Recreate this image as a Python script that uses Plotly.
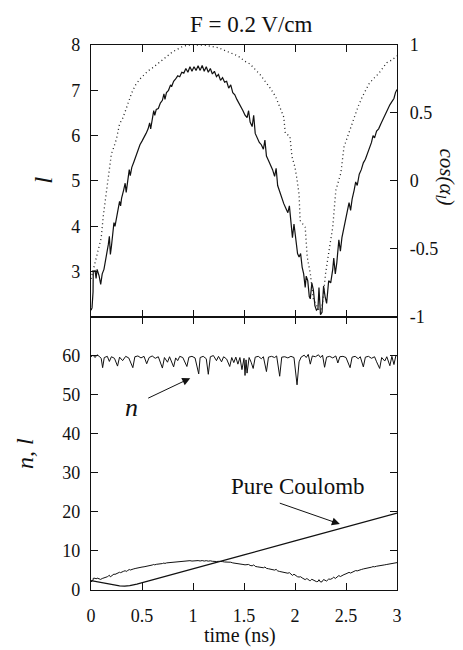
import plotly.graph_objects as go

# ---------------- data ----------------
t_l = [0.000, 0.010, 0.020, 0.022, 0.040, 0.050, 0.060, 0.080, 0.095, 0.110, 0.127, 0.140, 0.150, 0.160,
       0.170, 0.180, 0.190, 0.200, 0.215, 0.225, 0.235, 0.250, 0.265, 0.280, 0.290, 0.300, 0.320, 0.335,
       0.345, 0.360, 0.375, 0.385, 0.400, 0.420, 0.440, 0.460, 0.480, 0.500, 0.520, 0.540, 0.560, 0.575,
       0.585, 0.600, 0.615, 0.625, 0.640, 0.660, 0.680, 0.700, 0.715, 0.725, 0.740, 0.760, 0.780, 0.790,
       0.810, 0.830, 0.850, 0.870, 0.890, 0.910, 0.930, 0.950, 0.970, 0.990, 1.010, 1.030, 1.050, 1.070,
       1.090, 1.110, 1.130, 1.150, 1.170, 1.190, 1.210, 1.230, 1.250, 1.270, 1.290, 1.310, 1.330, 1.350,
       1.370, 1.390, 1.410, 1.430, 1.450, 1.470, 1.490, 1.510, 1.530, 1.545, 1.560, 1.580, 1.595, 1.610,
       1.630, 1.650, 1.670, 1.690, 1.705, 1.720, 1.740, 1.760, 1.780, 1.800, 1.815, 1.830, 1.850, 1.870,
       1.890, 1.910, 1.930, 1.945, 1.960, 1.975, 1.990, 2.010, 2.025, 2.040, 2.055, 2.070, 2.085, 2.100,
       2.110, 2.125, 2.140, 2.150, 2.165, 2.180, 2.195, 2.210, 2.225, 2.235, 2.250, 2.265, 2.280, 2.295,
       2.310, 2.330, 2.350, 2.370, 2.380, 2.395, 2.410, 2.430, 2.445, 2.460, 2.480, 2.500, 2.515, 2.530,
       2.545, 2.560, 2.580, 2.595, 2.610, 2.630, 2.650, 2.670, 2.690, 2.710, 2.730, 2.750, 2.765, 2.780,
       2.800, 2.820, 2.840, 2.860, 2.880, 2.900, 2.915, 2.930, 2.950, 2.970, 2.985, 3.000]
l_vals = [2.15, 2.20, 2.55, 3.00, 3.02, 2.85, 3.05, 2.90, 2.72, 2.95, 3.05, 3.20, 3.35, 3.40,
          3.60, 3.78, 3.38, 3.55, 3.80, 4.08, 4.00, 4.20, 4.35, 4.55, 4.45, 4.62, 4.80, 4.95,
          4.75, 5.00, 5.25, 5.12, 5.30, 5.42, 5.55, 5.70, 5.80, 5.88, 5.95, 6.05, 6.15, 6.28,
          6.15, 6.40, 6.55, 6.45, 6.58, 6.60, 6.72, 6.78, 6.92, 6.80, 6.95, 7.00, 7.12, 7.08,
          7.20, 7.25, 7.32, 7.30, 7.40, 7.38, 7.48, 7.40, 7.52, 7.42, 7.52, 7.44, 7.54, 7.44,
          7.55, 7.42, 7.52, 7.40, 7.48, 7.36, 7.42, 7.30, 7.35, 7.22, 7.28, 7.18, 7.20, 7.05,
          7.12, 6.95, 6.90, 6.80, 6.72, 6.65, 6.55, 6.45, 6.40, 6.55, 6.30, 6.20, 6.45, 6.05,
          5.95, 5.85, 5.80, 5.70, 5.90, 5.55, 5.45, 5.35, 5.25, 5.10, 5.28, 4.90, 4.75, 4.62,
          4.50, 4.40, 4.30, 4.45, 4.05, 3.75, 4.05, 3.60, 3.40, 3.32, 3.40, 3.10, 2.95, 2.65,
          2.90, 2.80, 2.45, 2.40, 2.75, 2.60, 2.25, 2.15, 2.18, 2.65, 2.05, 2.10, 2.68, 2.45,
          2.30, 2.80, 2.75, 3.05, 3.30, 2.95, 3.20, 3.70, 3.45, 3.75, 3.95, 4.15, 4.30, 4.52,
          4.35, 4.60, 4.80, 4.98, 4.90, 5.15, 5.25, 5.40, 5.48, 5.60, 5.70, 5.85, 6.00, 5.95,
          6.10, 6.15, 6.25, 6.35, 6.45, 6.55, 6.62, 6.68, 6.75, 6.82, 6.95, 7.02]

t_cos = [0.00, 0.02, 0.04, 0.06, 0.08, 0.10, 0.12, 0.14, 0.16, 0.18, 0.20, 0.22, 0.25, 0.28, 0.31,
         0.33, 0.36, 0.40, 0.44, 0.48, 0.52, 0.56, 0.60, 0.65, 0.70, 0.75, 0.80, 0.85, 0.90, 0.95,
         1.00, 1.10, 1.18, 1.25, 1.31, 1.38, 1.44, 1.51, 1.56, 1.61, 1.66, 1.71, 1.76, 1.81, 1.85,
         1.89, 1.905, 1.95, 1.97, 2.00, 2.02, 2.04, 2.05, 2.10, 2.12, 2.15, 2.18, 2.22, 2.25, 2.27,
         2.30, 2.33, 2.37, 2.40, 2.45, 2.48, 2.52, 2.55, 2.58, 2.62, 2.66, 2.70, 2.73, 2.78, 2.82,
         2.86, 2.90, 2.95, 3.00]
cos_vals = [-0.72, -0.66, -0.60, -0.52, -0.46, -0.42, -0.26, -0.14, -0.05, 0.06, 0.20, 0.24, 0.31, 0.42, 0.46,
            0.50, 0.57, 0.65, 0.71, 0.75, 0.78, 0.81, 0.83, 0.86, 0.89, 0.92, 0.95, 0.97, 0.99, 1.00,
            1.00, 1.00, 0.99, 0.98, 0.96, 0.94, 0.92, 0.88, 0.86, 0.82, 0.78, 0.73, 0.68, 0.62, 0.55,
            0.47, 0.35, 0.33, 0.18, 0.10, 0.01, -0.10, -0.29, -0.34, -0.56, -0.68, -0.87, -0.93, -0.97, -0.90,
            -0.68, -0.53, -0.34, -0.07, 0.06, 0.25, 0.34, 0.40, 0.47, 0.55, 0.62, 0.68, 0.72, 0.76, 0.79,
            0.83, 0.87, 0.89, 0.92]

t_n = [0.00, 0.02, 0.04, 0.06, 0.08, 0.10, 0.114, 0.13, 0.16, 0.18, 0.20, 0.23, 0.26, 0.28, 0.31,
       0.34, 0.37, 0.41, 0.43, 0.46, 0.49, 0.52, 0.546, 0.57, 0.60, 0.63, 0.66, 0.70, 0.72, 0.75,
       0.77, 0.79, 0.81, 0.83, 0.85, 0.87, 0.90, 0.94, 0.96, 0.99, 1.02, 1.056, 1.07, 1.10, 1.13,
       1.15, 1.17, 1.20, 1.23, 1.25, 1.28, 1.30, 1.33, 1.36, 1.38, 1.40, 1.42, 1.44, 1.46, 1.48,
       1.50, 1.51, 1.52, 1.53, 1.55, 1.57, 1.59, 1.61, 1.64, 1.67, 1.69, 1.72, 1.74, 1.77, 1.80,
       1.82, 1.85, 1.87, 1.90, 1.93, 1.96, 1.99, 2.02, 2.04, 2.06, 2.09, 2.11, 2.13, 2.15, 2.17,
       2.20, 2.23, 2.25, 2.27, 2.29, 2.31, 2.34, 2.37, 2.40, 2.42, 2.44, 2.47, 2.50, 2.54, 2.56,
       2.59, 2.62, 2.64, 2.67, 2.69, 2.72, 2.75, 2.78, 2.80, 2.83, 2.85, 2.88, 2.90, 2.93, 2.95,
       2.97, 2.99, 3.00]
n_vals = [59.8, 60.2, 59.6, 60.3, 59.9, 59.4, 57.0, 59.6, 59.9, 58.6, 59.8, 59.4, 57.4, 59.7, 58.8,
          59.9, 59.5, 57.0, 59.8, 60.0, 59.5, 59.9, 58.0, 59.6, 60.0, 59.4, 59.8, 56.9, 59.6, 58.4,
          59.8, 58.6, 57.2, 59.5, 58.8, 59.9, 59.6, 57.3, 59.7, 59.9, 59.5, 55.4, 59.6, 59.9, 59.3,
          55.3, 59.8, 60.1, 58.8, 59.9, 58.5, 59.8, 59.2, 57.3, 59.6, 58.3, 59.7, 57.9, 59.6, 56.5,
          59.4, 55.0, 59.0, 55.6, 59.6, 58.4, 56.8, 59.7, 59.9, 59.3, 59.8, 56.0, 59.7, 59.9, 59.6,
          60.0, 54.8, 59.7, 59.8, 59.5, 59.9, 59.6, 52.6, 58.5, 59.7, 60.2, 59.6, 60.4, 57.9, 60.0,
          59.8, 60.3, 59.6, 60.2, 57.1, 59.7, 59.9, 59.5, 60.0, 58.2, 59.8, 59.9, 59.6, 57.0, 59.7,
          59.9, 59.3, 59.8, 57.2, 59.7, 59.9, 59.4, 59.8, 58.5, 56.8, 59.6, 58.7, 59.8, 57.5, 59.9,
          57.8, 60.2, 60.0]

t_coul = [0.00, 0.10, 0.20, 0.28, 0.33, 0.38, 0.45, 0.55, 0.70, 1.00, 1.265, 1.50, 2.00, 2.50, 3.00]
coul_vals = [2.40, 1.90, 1.40, 1.08, 1.00, 1.10, 1.50, 2.20, 3.25, 5.40, 7.40, 9.00, 12.60, 16.10, 19.70]

x_ticks = [0, 0.5, 1, 1.5, 2, 2.5, 3]
x_tick_text = ["0", "0.5", "1", "1.5", "2", "2.5", "3"]
l_ticks = [3, 4, 5, 6, 7, 8]
cos_ticks = [-1, -0.5, 0, 0.5, 1]
cos_tick_text = ["-1", "-0.5", "0", "0.5", "1"]
nl_ticks = [0, 10, 20, 30, 40, 50, 60]

FONT = "Liberation Serif"
BLK = "#111111"

fig = go.Figure()
fig.add_trace(go.Scatter(x=t_l, y=l_vals, mode="lines", line=dict(color=BLK, width=1.2),
                         xaxis="x", yaxis="y", showlegend=False))
fig.add_trace(go.Scatter(x=t_cos, y=cos_vals, mode="lines", line=dict(color="#222222", width=1.3, dash="1px,3px"),
                         xaxis="x", yaxis="y2", showlegend=False))
fig.add_trace(go.Scatter(x=t_n, y=n_vals, mode="lines", line=dict(color=BLK, width=1.0),
                         xaxis="x2", yaxis="y3", showlegend=False))
fig.add_trace(go.Scatter(x=t_l, y=l_vals, mode="lines", line=dict(color=BLK, width=1.0),
                         xaxis="x2", yaxis="y3", showlegend=False))
fig.add_trace(go.Scatter(x=t_coul, y=coul_vals, mode="lines", line=dict(color=BLK, width=1.2),
                         xaxis="x2", yaxis="y3", showlegend=False))

ax_common = dict(showgrid=False, zeroline=False, showline=True, linecolor=BLK, linewidth=1.2,
                 ticks="inside", ticklen=7, tickcolor=BLK, tickwidth=1.2,
                 tickfont=dict(family=FONT, size=18, color=BLK))
split = 0.501

fig.update_layout(
    width=463, height=650,
    margin=dict(l=91, r=66, t=45, b=60),
    paper_bgcolor="white", plot_bgcolor="white",
    font=dict(family=FONT, color=BLK),
    xaxis=dict(domain=[0, 1], range=[0, 3], anchor="y", tickvals=x_ticks, showticklabels=False,
               mirror="ticks", **ax_common),
    yaxis=dict(domain=[split, 1], range=[2, 8], anchor="x", tickvals=l_ticks, ticklabelstandoff=6,
               **ax_common),
    yaxis2=dict(domain=[split, 1], range=[-1, 1], overlaying="y", side="right", anchor="x",
                tickvals=cos_ticks, ticktext=cos_tick_text, ticklabelstandoff=8, **ax_common),
    xaxis2=dict(domain=[0, 1], range=[0, 3], anchor="y3", tickvals=x_ticks, ticktext=x_tick_text,
                mirror="ticks", ticklabelstandoff=9, **ax_common),
    yaxis3=dict(domain=[0, split], range=[0, 70], anchor="x2", tickvals=nl_ticks, mirror="ticks",
                ticklabelstandoff=6, **ax_common),
)

anns = [
    dict(text="F = 0.2 V/cm", x=0.525, y=1.037, xref="paper", yref="paper", showarrow=False,
         font=dict(family=FONT, size=23, color=BLK), xanchor="center", yanchor="middle"),
    dict(text="<i>l</i>", x=-0.157, y=0.752, xref="paper", yref="paper", showarrow=False,
         textangle=-90, font=dict(family=FONT, size=26, color=BLK), xanchor="center", yanchor="middle"),
    dict(text="<i>cos(α<sub>l</sub>)</i>", x=1.16, y=0.757, xref="paper", yref="paper", showarrow=False,
         textangle=90, font=dict(family=FONT, size=21, color=BLK), xanchor="center", yanchor="middle"),
    dict(text="<i>n, l</i>", x=-0.216, y=0.251, xref="paper", yref="paper", showarrow=False,
         textangle=-90, font=dict(family=FONT, size=24, color=BLK), xanchor="center", yanchor="middle"),
    dict(text="time (ns)", x=0.487, y=-0.084, xref="paper", yref="paper", showarrow=False,
         font=dict(family=FONT, size=20, color=BLK), xanchor="center", yanchor="middle"),
    dict(text="<i>n</i>", x=0.40, y=46.8, xref="x2", yref="y3", showarrow=False,
         font=dict(family=FONT, size=26, color=BLK), xanchor="center", yanchor="middle"),
    dict(text="", x=0.973, y=54.3, ax=0.546, ay=49.0, xref="x2", yref="y3", axref="x2", ayref="y3",
         showarrow=True, arrowhead=2, arrowsize=1.6, arrowwidth=1, arrowcolor=BLK),
    dict(text="Pure Coulomb", x=2.03, y=26.5, xref="x2", yref="y3", showarrow=False,
         font=dict(family=FONT, size=23, color=BLK), xanchor="center", yanchor="middle"),
    dict(text="", x=2.44, y=16.9, ax=1.836, ay=22.4, xref="x2", yref="y3", axref="x2", ayref="y3",
         showarrow=True, arrowhead=2, arrowsize=1.6, arrowwidth=1, arrowcolor=BLK),
]
fig.update_layout(annotations=anns)

fig.write_html("out.html")
